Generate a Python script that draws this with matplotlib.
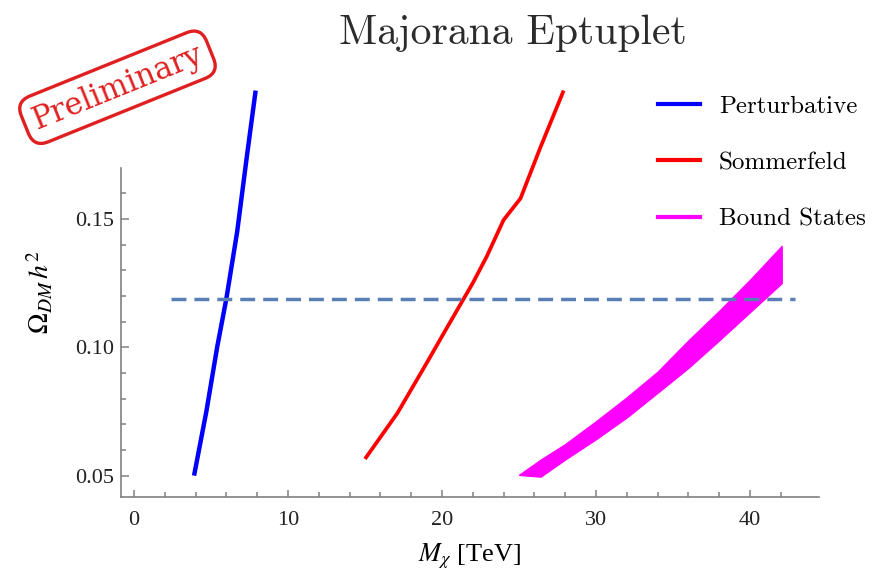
import numpy as np
import matplotlib.pyplot as plt
from matplotlib.lines import Line2D

plt.rcParams['font.family'] = 'Liberation Serif'
plt.rcParams['mathtext.fontset'] = 'stix'

# perturbative annihilation
pert_m = [3.9, 4.7, 5.4, 6.0, 6.7, 7.3, 7.9]
pert_omega = [0.050, 0.075, 0.100, 0.119, 0.145, 0.173, 0.200]

# with Sommerfeld enhancement
somm_m = [15.0, 17.1, 19.0, 20.3, 21.4, 22.0, 22.9, 24.0, 25.1, 26.4, 27.9]
somm_omega = [0.0565, 0.0743, 0.0938, 0.1074, 0.1188, 0.125, 0.1353, 0.1496, 0.158, 0.178, 0.200]

# Sommerfeld + bound state formation (band)
bsf_m = [25.0, 26.4, 28.0, 30.0, 32.0, 34.0, 36.0, 38.0, 40.0, 42.06]
bsf_upper = [0.0503, 0.0562, 0.0623, 0.0712, 0.0805, 0.0905, 0.1027, 0.1142, 0.1263, 0.1395]
bsf_lower = [0.0503, 0.0496, 0.0563, 0.0642, 0.0727, 0.0823, 0.0920, 0.1027, 0.1137, 0.1250]

# observed relic density
relic = 0.1188
relic_m = [2.4, 42.9]

fig = plt.figure(figsize=(8.9, 5.74), dpi=100)
ax = fig.add_axes([0.1356, 0.1347, 0.7846, 0.712])

ax.plot(pert_m, pert_omega, color='#0000ff', lw=3.2, clip_on=False, solid_capstyle='butt')
ax.plot(somm_m, somm_omega, color='#ff0000', lw=2.7, clip_on=False, solid_capstyle='butt')
ax.fill_between(bsf_m, bsf_lower, bsf_upper, color='#ff00ff', lw=1.0, edgecolor='#ff00ff')
ax.plot(relic_m, [relic, relic], color='#5a7fb4', lw=2.5, dashes=(4.3, 2.3))

ax.set_xlim(-0.864, 44.48)
ax.set_ylim(0.0418, 0.201)
ax.spines['top'].set_visible(False)
ax.spines['right'].set_visible(False)
ax.spines['left'].set_bounds(0.0418, 0.170)
for s in ['left', 'bottom']:
    ax.spines[s].set_color('#808080')
    ax.spines[s].set_linewidth(1.2)

ax.set_xticks([0, 10, 20, 30, 40])
ax.set_xticks([t for t in range(2, 43, 2) if t % 10], minor=True)
ax.set_yticks([0.05, 0.10, 0.15])
ax.set_yticklabels(['0.05', '0.10', '0.15'])
ax.set_yticks([0.06, 0.07, 0.08, 0.09, 0.11, 0.12, 0.13, 0.14, 0.16], minor=True)
ax.tick_params(which='both', direction='in', color='#808080', width=1.1, labelcolor='#222222', labelsize=16)
ax.tick_params(which='major', length=5.4)
ax.tick_params(which='minor', length=3.3)
ax.tick_params(axis='x', pad=10)
ax.tick_params(axis='y', pad=5)

ax.set_xlabel(r'$M_\chi$ [TeV]', fontsize=19, labelpad=9)
ax.set_ylabel(r'$\Omega_{DM}\,h^2$', fontsize=20, labelpad=14)

fig.text(0.576, 0.942, 'Majorana Eptuplet', family='cmr10', fontsize=30,
         color='#2b2b2b', ha='center', va='center')

handles = [Line2D([], [], color='#0000ff', lw=3),
           Line2D([], [], color='#ff0000', lw=3),
           Line2D([], [], color='#ff00ff', lw=3)]
fig.legend(handles, ['Perturbative', 'Sommerfeld', 'Bound States'],
           loc='upper left', bbox_to_anchor=(0.739, 0.834), frameon=False,
           prop={'family': 'cmr10', 'size': 18}, handlelength=1.7,
           handletextpad=0.75, labelspacing=1.35, borderpad=0, borderaxespad=0)

fig.text(0.132, 0.848, 'Preliminary', family='DejaVu Serif', fontsize=22,
         color='#e02020', rotation=22, ha='center', va='center',
         rotation_mode='anchor',
         bbox=dict(boxstyle='round,pad=0.3,rounding_size=0.5', fc='white',
                   ec='#e02020', lw=2.4))

fig.savefig('out.png', dpi=100)
